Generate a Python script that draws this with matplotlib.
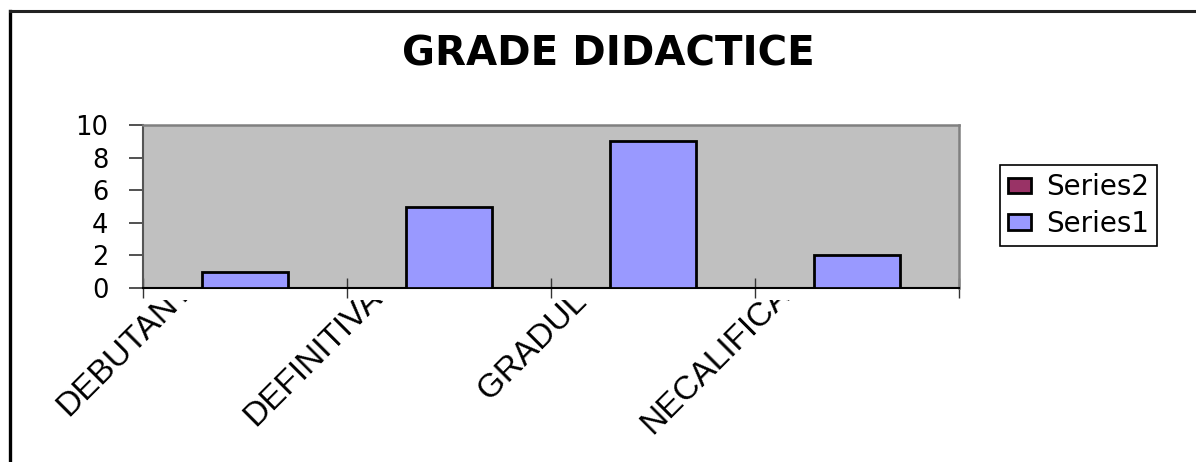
import matplotlib
matplotlib.use("Agg")
import matplotlib.pyplot as plt
from matplotlib.patches import Patch
from matplotlib.lines import Line2D
from matplotlib.transforms import Bbox, TransformedBbox

categories = ["DEBUTANTI", "DEFINITIVATI", "GRADUL I", "NECALIFICATI"]
series1 = [1, 5, 9, 2]
series2 = [0, 0, 0, 0]
yticks = [0, 2, 4, 6, 8, 10]
title = "GRADE DIDACTICE"

W, H = 1196, 462
fig = plt.figure(figsize=(W / 100, H / 100), dpi=100)
fig.patch.set_facecolor("white")

def fx(px):
    return px / W

def fy(py):
    return 1 - py / H

# outer chart frame (left and top edges visible)
fig.add_artist(Line2D([fx(9.5), fx(9.5)], [fy(462), fy(10.5)], transform=fig.transFigure,
                      color="black", lw=2.4))
fig.add_artist(Line2D([fx(9.5), fx(1196)], [fy(10.5), fy(10.5)], transform=fig.transFigure,
                      color="#222222", lw=2.2))

ax = fig.add_axes([fx(143), fy(288), fx(959) - fx(143), fy(125) - fy(288)])
ax.set_facecolor("#C0C0C0")

x = list(range(len(categories)))
ax.bar(x, series2, width=0.42, color="#993366", edgecolor="none", linewidth=0)
ax.bar(x, series1, width=0.42, color="#9999FF", edgecolor="black", linewidth=2.0, zorder=3)

ax.set_xlim(-0.5, len(categories) - 0.5)
ax.set_ylim(0, 10)
ax.set_yticks(yticks)
ax.set_yticklabels([str(v) for v in yticks], fontsize=18.5, family="DejaVu Sans")
ax.tick_params(axis="y", direction="out", length=10, width=1.2, color="#333333", pad=15)
ax.set_xticks([i - 0.5 for i in range(len(categories) + 1)])
ax.set_xticklabels([])
ax.tick_params(axis="x", direction="inout", length=15, width=1.0, color="#333333")

for side in ["top", "right"]:
    ax.spines[side].set_color("#808080")
    ax.spines[side].set_linewidth(1.8)
ax.spines["left"].set_color("#555555")
ax.spines["left"].set_linewidth(1.5)
ax.spines["bottom"].set_color("black")
ax.spines["bottom"].set_linewidth(1.5)

# rotated category labels, clipped just below the axis like the original
clip = TransformedBbox(Bbox([[0, 0], [1, fy(300)]]), fig.transFigure)
starts = [(68, 417), (255, 427), (490, 402), (652, 435)]
for lab, (sx, sy) in zip(categories, starts):
    t = fig.text(fx(sx), fy(sy), lab, rotation=45, rotation_mode="anchor",
                 ha="left", va="baseline", fontsize=24, family="Liberation Sans")
    t.set_clip_box(clip)
    t.set_clip_on(True)

fig.text(fx(608), fy(54), title, ha="center", va="center", fontsize=29,
         fontweight="bold", family="DejaVu Sans")

handles = [Patch(facecolor="#993366", edgecolor="black", linewidth=2.0),
           Patch(facecolor="#9999FF", edgecolor="black", linewidth=2.0)]
leg = fig.legend(handles, ["Series2", "Series1"], loc="upper left",
                 bbox_to_anchor=(fx(1000), fy(165)), bbox_transform=fig.transFigure,
                 borderaxespad=0, frameon=True, fancybox=False, framealpha=1,
                 edgecolor="black", prop={"family": "DejaVu Sans", "size": 20},
                 handlelength=0.8, handleheight=0.5, handletextpad=0.55,
                 labelspacing=0.3, borderpad=0.3)
leg.get_frame().set_linewidth(1.2)

fig.savefig("out.png", dpi=100)
